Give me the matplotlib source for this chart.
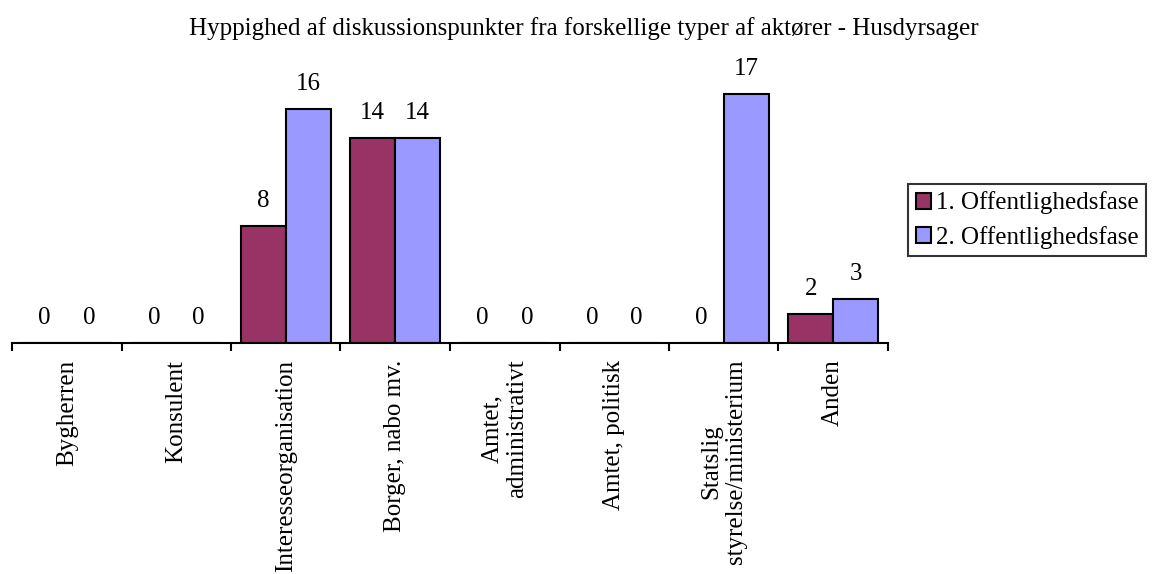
import numpy as np
import matplotlib.pyplot as plt

plt.rcParams['font.family'] = ['Liberation Serif', 'DejaVu Serif']

categories = ['Bygherren', 'Konsulent', 'Interesseorganisation', 'Borger, nabo mv.',
              'Amtet,\nadministrativt', 'Amtet, politisk',
              'Statslig\nstyrelse/ministerium', 'Anden']
fase1 = [0, 0, 8, 14, 0, 0, 0, 2]
fase2 = [0, 0, 16, 14, 0, 0, 17, 3]
series_names = ['1. Offentlighedsfase', '2. Offentlighedsfase']
colors = ['#993366', '#9999FF']

fig = plt.figure(figsize=(11.52, 5.74), dpi=100)
ax = fig.add_axes([12 / 1152, 231 / 574, 876 / 1152, 293 / 574])

x = np.arange(len(categories))
w = 0.41
b1 = ax.bar(x - w / 2, fase1, w, color=colors[0], edgecolor='black', linewidth=1.5,
            label=series_names[0])
b2 = ax.bar(x + w / 2, fase2, w, color=colors[1], edgecolor='black', linewidth=1.5,
            label=series_names[1])

for bars, vals in [(b1, fase1), (b2, fase2)]:
    for rect, v in zip(bars, vals):
        ax.annotate(str(v), (rect.get_x() + rect.get_width() / 2, v),
                    xytext=(0, 10), textcoords='offset points',
                    ha='center', va='bottom', fontsize=18)

ax.set_xlim(-0.5, len(categories) - 0.5)
ax.set_ylim(0, 20)
for s in ['top', 'right', 'left']:
    ax.spines[s].set_visible(False)
ax.spines['bottom'].set_linewidth(1.5)
ax.set_yticks([])

ax.set_xticks(x)
ax.set_xticklabels(categories, rotation=90, ha='center', va='top',
                   multialignment='center', fontsize=18)
ax.tick_params(axis='x', which='major', length=0, pad=12)
ax.set_xticks(np.arange(len(categories) + 1) - 0.5, minor=True)
ax.tick_params(axis='x', which='minor', length=6, width=1.5, direction='out')

fig.text(0.507, 1 - 29 / 574,
         'Hyppighed af diskussionspunkter fra forskellige typer af aktører - Husdyrsager',
         ha='center', va='center', fontsize=18)

leg = fig.legend(loc='center left', bbox_to_anchor=(908 / 1152, 1 - 220 / 574),
                 fontsize=18, frameon=True, fancybox=False, edgecolor='black',
                 handlelength=0.6, handleheight=0.6, handletextpad=0.2,
                 borderpad=0.3, labelspacing=0.45, borderaxespad=0)
leg.get_frame().set_linewidth(1.5)

fig.savefig('out.png', dpi=100)
